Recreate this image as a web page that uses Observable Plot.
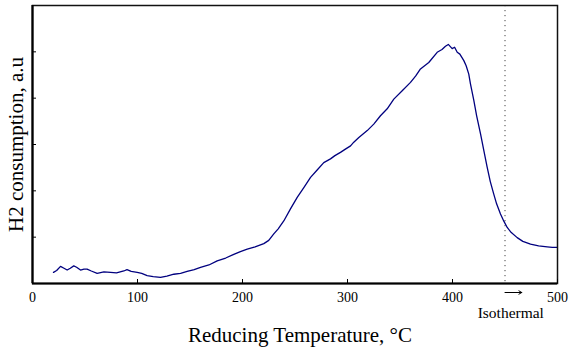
<!DOCTYPE html>
<html>
<head>
<meta charset="utf-8">
<script src="https://cdn.jsdelivr.net/npm/d3@7"></script>
<script src="https://cdn.jsdelivr.net/npm/@observablehq/plot@0.6"></script>
<style>
  html, body { margin: 0; padding: 0; background: #fff; }
</style>
</head>
<body>
<div id="chart"></div>
<script>
const temperature = [20, 23, 26.7, 30, 33, 36, 39.3, 42, 45.7, 49, 52, 56, 61.6, 68, 74.3, 80, 87, 90, 94, 99.7,
  104, 109.2, 115, 121.9, 128, 134.6, 141, 147.3, 154, 160, 168, 175.9, 184, 191.7, 198, 204.5, 212, 220.3, 225, 229.8,
  234, 239.3, 245.7, 252.1, 258.4, 264.8, 271.1, 277.4, 283.8, 288, 293.3, 298, 302.9, 306, 310.8, 318.8, 325, 331.4,
  337.8, 344.1, 352.1, 360, 365, 369.5, 377.4, 385.4, 390, 393.3, 396, 399.7, 402, 404.5, 407, 410.8, 413, 415.5, 417.1,
  420.3, 423, 426.7, 430, 433, 436, 439.3, 442, 445.7, 449, 452.1, 456, 461.6, 467, 474.3, 482, 490.2, 495, 499.7];
const consumption = [0.24, 0.28, 0.37, 0.33, 0.29, 0.33, 0.38, 0.35, 0.29, 0.31, 0.31, 0.27, 0.22, 0.25, 0.24, 0.23, 0.27, 0.30, 0.26, 0.24,
  0.22, 0.17, 0.15, 0.13, 0.16, 0.20, 0.22, 0.26, 0.30, 0.35, 0.40, 0.49, 0.55, 0.63, 0.69, 0.74, 0.79, 0.86, 0.93, 1.07,
  1.18, 1.35, 1.61, 1.86, 2.07, 2.29, 2.45, 2.61, 2.69, 2.76, 2.83, 2.90, 2.97, 3.05, 3.15, 3.30, 3.44, 3.62,
  3.77, 3.98, 4.16, 4.34, 4.48, 4.63, 4.77, 4.99, 5.05, 5.12, 5.16, 5.07, 5.10, 4.99, 4.95, 4.81, 4.70, 4.52, 4.31,
  3.95, 3.62, 3.23, 2.85, 2.51, 2.20, 1.93, 1.72, 1.50, 1.34, 1.21, 1.10, 0.99, 0.91, 0.85, 0.81, 0.79, 0.78, 0.78];
const xTicks = [0, 100, 200, 300, 400, 500];
const yTicks = [1, 2, 3, 4, 5];
const isothermalStart = [450];
const isothermalLabel = ["Isothermal"];
const xLabel = "Reducing Temperature, °C";
const yLabel = "H2 consumption, a.u";

const data = temperature.map((t, i) => ({t, v: consumption[i]}));
const serif = "'Liberation Serif', 'Times New Roman', Times, serif";

const chart = Plot.plot({
  width: 571,
  height: 349,
  marginLeft: 32,
  marginRight: 14,
  marginTop: 5,
  marginBottom: 66,
  style: {fontFamily: serif, fontSize: "14px", background: "#fff", color: "#000"},
  x: {domain: [0, 500]},
  y: {domain: [0, 6]},
  marks: [
    Plot.ruleX(isothermalStart, {stroke: "#444", strokeWidth: 1, strokeDasharray: "1.2,3.8"}),
    Plot.line(data, {x: "t", y: "v", stroke: "#00007f", strokeWidth: 1.3}),
    Plot.frame({stroke: "#111", strokeWidth: 1.5}),
    Plot.axisX({ticks: xTicks, tickSize: -4, tickPadding: 13, tickFormat: d => String(d), fontSize: 14, label: null}),
    Plot.axisY({ticks: yTicks, tickSize: -4, tickFormat: () => "", label: null}),
    Plot.ruleX([0], {strokeWidth: 2.2, stroke: "#000"}),
    Plot.ruleY([0], {strokeWidth: 2.2, stroke: "#000"}),
    Plot.arrow(isothermalStart, {x1: d => d, x2: d => d + 16, y1: 0, y2: 0, dy: 9, headLength: 5, strokeWidth: 1, stroke: "#000", bend: 0}),
    Plot.text(isothermalLabel, {x: () => isothermalStart[0] + 5.5, y: 0, text: d => d, dy: 30, fontSize: 15.5}),
    Plot.text([xLabel], {frameAnchor: "bottom", text: d => d, dx: 5, dy: 52, lineAnchor: "middle", fontSize: 21}),
    Plot.text([yLabel], {frameAnchor: "left", text: d => d, rotate: -90, dx: -16, textAnchor: "middle", lineAnchor: "middle", fontSize: 21})
  ]
});
document.getElementById("chart").appendChild(chart);
</script>
</body>
</html>
